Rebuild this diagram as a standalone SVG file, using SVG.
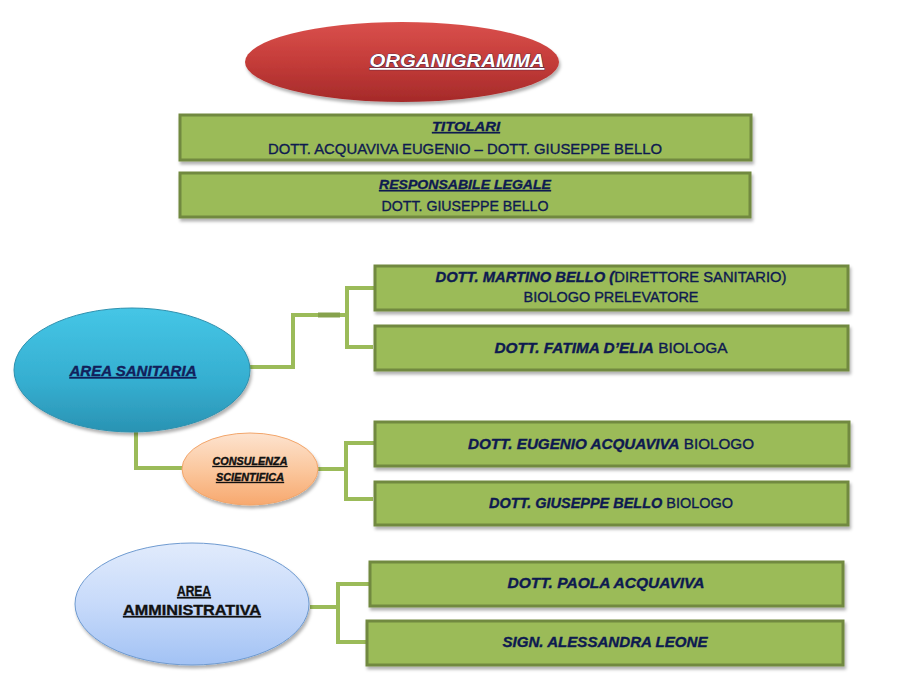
<svg xmlns="http://www.w3.org/2000/svg" width="923" height="692" viewBox="0 0 923 692">
<defs>
<linearGradient id="gRed" x1="0" y1="0" x2="0" y2="1">
<stop offset="0" stop-color="#D9504C"/><stop offset="0.5" stop-color="#C43C39"/><stop offset="1" stop-color="#A52A2A"/>
</linearGradient>
<linearGradient id="gCyan" x1="0" y1="0" x2="0" y2="1">
<stop offset="0" stop-color="#45C6E6"/><stop offset="0.6" stop-color="#35AED0"/><stop offset="1" stop-color="#2A93B3"/>
</linearGradient>
<linearGradient id="gPeach" x1="0" y1="0" x2="0" y2="1">
<stop offset="0" stop-color="#FDE3CF"/><stop offset="0.5" stop-color="#FBC89F"/><stop offset="1" stop-color="#F7A86E"/>
</linearGradient>
<linearGradient id="gBlue" x1="0" y1="0" x2="0" y2="1">
<stop offset="0" stop-color="#E1EBFC"/><stop offset="0.5" stop-color="#C7DAFA"/><stop offset="1" stop-color="#A2C2F4"/>
</linearGradient>
<filter id="sh" x="-10%" y="-20%" width="120%" height="150%">
<feDropShadow dx="1.5" dy="3" stdDeviation="1.8" flood-color="#000" flood-opacity="0.3"/>
</filter>
</defs>
<style>
.box{fill:#9BBB59;stroke:#71893F;stroke-width:3;filter:url(#sh)}
.t{font-family:"Liberation Sans",Arial,sans-serif;font-size:14px;fill:#0E1A50;stroke:#0E1A50;stroke-width:0.35;text-anchor:middle}
.bi{font-weight:bold;font-style:italic}
.u{text-decoration:underline}
.k{fill:#111;stroke:#111}
.con{fill:none;stroke:#9BBB59;stroke-width:4}
</style>

<g id="title">
<ellipse cx="402" cy="62" rx="157" ry="40" fill="url(#gRed)" filter="url(#sh)"/>
<text x="457" y="67" class="t bi u" style="font-size:18px;fill:#fff;stroke:#1A2050;stroke-width:0.7;paint-order:stroke" textLength="175" lengthAdjust="spacingAndGlyphs">ORGANIGRAMMA</text>
</g>

<g id="titolari">
<rect class="box" x="180" y="115" width="571" height="45"/>
<text x="466" y="131" class="t bi u" style="font-size:13px" textLength="68" lengthAdjust="spacingAndGlyphs">TITOLARI</text>
<text x="465" y="154" class="t" style="font-size:15px" textLength="394" lengthAdjust="spacingAndGlyphs">DOTT. ACQUAVIVA EUGENIO – DOTT.  GIUSEPPE BELLO</text>
</g>

<g id="responsabile">
<rect class="box" x="180" y="173" width="570" height="44"/>
<text x="465" y="189" class="t bi u" style="font-size:13px" textLength="172" lengthAdjust="spacingAndGlyphs">RESPONSABILE LEGALE</text>
<text x="465" y="211" class="t" style="font-size:15px" textLength="167" lengthAdjust="spacingAndGlyphs">DOTT. GIUSEPPE BELLO</text>
</g>

<g id="connectors">
<path class="con" d="M248 367 H293 V315 H347"/>
<path d="M318 315 H340" stroke="#86A24C" stroke-width="5"/>
<path class="con" d="M375 288 H347 V347 H373"/>
<path class="con" d="M136 432 V468 H183"/>
<path class="con" d="M318 469 H346"/>
<path class="con" d="M375 443 H346 V499 H373"/>
<path class="con" d="M310 607 H338"/>
<path class="con" d="M370 584 H338 V642 H367"/>
</g>

<g id="area-sanitaria">
<ellipse cx="132" cy="370" rx="118" ry="62" fill="url(#gCyan)" stroke="#2E90AE" stroke-width="1" filter="url(#sh)"/>
<text x="133" y="376" class="t bi u" style="font-size:15px;fill:#13215E" textLength="127" lengthAdjust="spacingAndGlyphs">AREA SANITARIA</text>
</g>

<g id="martino">
<rect class="box" x="375" y="266" width="473" height="44"/>
<text x="611" y="282" class="t" textLength="351" lengthAdjust="spacingAndGlyphs"><tspan class="bi">DOTT. MARTINO BELLO (</tspan>DIRETTORE SANITARIO)</text>
<text x="611" y="302" class="t" textLength="175" lengthAdjust="spacingAndGlyphs">BIOLOGO PRELEVATORE</text>
</g>

<g id="fatima">
<rect class="box" x="375" y="326" width="473" height="44"/>
<text x="611" y="353" class="t" textLength="233" lengthAdjust="spacingAndGlyphs"><tspan class="bi">DOTT. FATIMA D’ELIA</tspan>  BIOLOGA</text>
</g>

<g id="consulenza">
<ellipse cx="250" cy="469" rx="68" ry="36" fill="url(#gPeach)" stroke="#F2A56A" stroke-width="1" filter="url(#sh)"/>
<text x="250" y="465" class="t bi u k" style="font-size:10px" textLength="75" lengthAdjust="spacingAndGlyphs">CONSULENZA</text>
<text x="250" y="481" class="t bi u k" style="font-size:10px" textLength="68" lengthAdjust="spacingAndGlyphs">SCIENTIFICA</text>
</g>

<g id="eugenio">
<rect class="box" x="375" y="422" width="474" height="44"/>
<text x="611" y="449" class="t" textLength="286" lengthAdjust="spacingAndGlyphs"><tspan class="bi">DOTT. EUGENIO ACQUAVIVA</tspan> BIOLOGO</text>
</g>

<g id="giuseppe">
<rect class="box" x="375" y="482" width="473" height="43"/>
<text x="611" y="508" class="t" textLength="244" lengthAdjust="spacingAndGlyphs"><tspan class="bi">DOTT. GIUSEPPE BELLO</tspan> BIOLOGO</text>
</g>

<g id="area-amministrativa">
<ellipse cx="192" cy="604" rx="117" ry="61" fill="url(#gBlue)" stroke="#6E9AD0" stroke-width="1" filter="url(#sh)"/>
<text x="194" y="596" class="t u k" style="font-size:14px;font-weight:bold" textLength="34" lengthAdjust="spacingAndGlyphs">AREA</text>
<text x="192" y="615" class="t u k" style="font-size:14px;font-weight:bold" textLength="138" lengthAdjust="spacingAndGlyphs">AMMINISTRATIVA</text>
</g>

<g id="paola">
<rect class="box" x="370" y="562" width="473" height="44"/>
<text x="606" y="588" class="t bi" textLength="197" lengthAdjust="spacingAndGlyphs">DOTT. PAOLA  ACQUAVIVA</text>
</g>

<g id="alessandra">
<rect class="box" x="367" y="621" width="476" height="44"/>
<text x="605" y="647" class="t bi" textLength="205" lengthAdjust="spacingAndGlyphs">SIGN. ALESSANDRA  LEONE</text>
</g>
</svg>
